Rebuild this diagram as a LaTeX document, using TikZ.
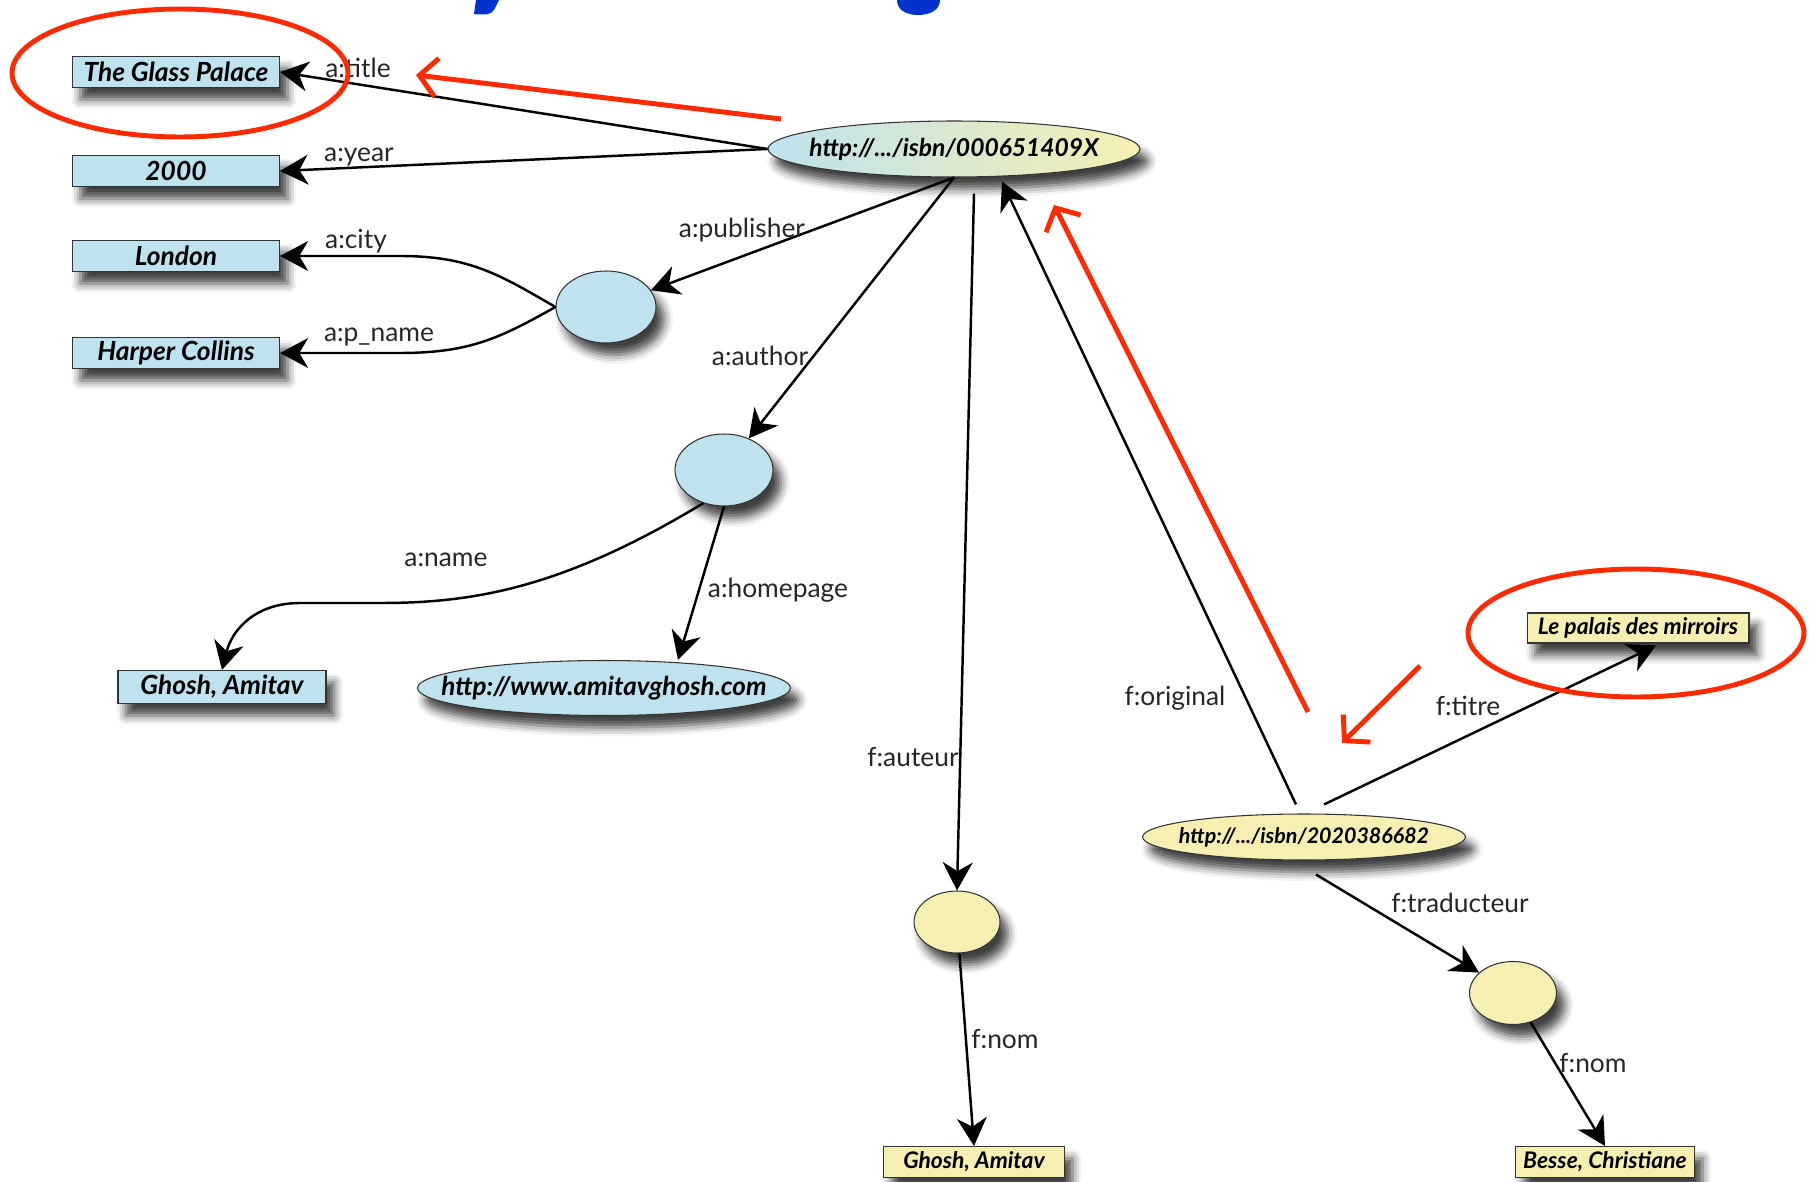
\documentclass[tikz,border=0pt]{standalone}
\usepackage{fontspec}
\setmainfont{Lato}
\usetikzlibrary{shapes.geometric,arrows.meta,calc,shadows.blur}
\definecolor{nblue}{HTML}{BEE2EE}
\definecolor{nyellow}{HTML}{F5EFB2}
\definecolor{hilite}{HTML}{FF2A00}
\definecolor{titleblue}{HTML}{0033CC}
\newcommand{\uri}[1]{\makebox[0pt]{#1}}

\begin{document}
\begin{tikzpicture}[x=0.02cm,y=-0.02cm,
    shad/.style={blur shadow={shadow xshift=0.16cm,shadow yshift=-0.24cm,shadow blur radius=0.18cm,shadow opacity=75}},
    lit/.style={shad,rectangle,draw=black!80,line width=0.6pt,inner sep=0pt,minimum height=0.62cm},
    blit/.style={lit,fill=nblue,minimum width=4.14cm,font=\fontsize{15}{17}\selectfont\bfseries\itshape},
    ylit/.style={lit,fill=nyellow,font=\fontsize{13}{15}\selectfont\bfseries\itshape},
    res/.style={shad,ellipse,draw=black!80,line width=0.6pt,inner sep=0pt},
    blank/.style={res,minimum width=1.96cm,minimum height=1.44cm},
    lbl/.style={font=\fontsize{15}{17}\selectfont,text=black!85,inner sep=1pt},
    arr/.style={-{Stealth[length=16pt,width=17pt,inset=5pt]},line width=1.4pt},
    hl/.style={draw=hilite,line width=2.8pt},
    hlarr/.style={hl,-{Straight Barb[length=10pt,width=22pt]}}]
  \useasboundingbox (0,0) rectangle (1810,1182);
  % cut title
  \fill[titleblue] (478,0) -- (499,0) -- (494,10) .. controls (491,15) and (484,15) .. (474,14) -- (476,0) -- cycle;
  \fill[titleblue] (897,0) -- (940,0) .. controls (940,10) and (930,15) .. (918,15) .. controls (905,15) and (897,9) .. (897,0);
  % english graph
  \node[blit] (title) at (176,72) {The Glass Palace};
  \node[blit] (year) at (176,171) {2000};
  \node[blit] (city) at (176,256) {London};
  \node[blit] (pname) at (176,353) {Harper Collins};
  \node[res,left color=nblue,right color=nyellow,minimum width=7.44cm,minimum height=1.12cm,
    font=\fontsize{14}{16}\selectfont\bfseries\itshape] (isbn) at (954,149) {\uri{http://.../isbn/000651409X}};
  \node[blank,fill=nblue,minimum width=2cm] (pub) at (606,307) {};
  \node[blank,fill=nblue] (auth) at (724,470) {};
  \node[blit,minimum width=4.16cm,minimum height=0.66cm] (gho) at (222,687) {Ghosh, Amitav};
  \node[res,fill=nblue,minimum width=7.46cm,minimum height=1.1cm,
    font=\fontsize{14.8}{16}\selectfont\bfseries\itshape] (home) at (604,688) {\uri{http://www.amitavghosh.com}};
  % french graph
  \node[blank,fill=nyellow,minimum width=1.72cm,minimum height=1.24cm] (aut) at (957,922) {};
  \node[ylit,minimum width=3.62cm] (gho2) at (974,1162) {Ghosh, Amitav};
  \node[res,fill=nyellow,minimum width=6.46cm,minimum height=0.92cm,
    font=\fontsize{12.2}{14}\selectfont\bfseries\itshape] (isbn2) at (1304,837) {\uri{http://.../isbn/2020386682}};
  \node[ylit,minimum width=4.44cm,minimum height=0.6cm] (titre) at (1638,628) {Le palais des mirroirs};
  \node[blank,fill=nyellow,minimum width=1.74cm,minimum height=1.26cm] (trad) at (1513,993) {};
  \node[ylit,minimum width=3.58cm] (besse) at (1605,1162) {Besse, Christiane};
  % edges
  \draw[arr] (isbn.west) -- (title.east);
  \draw[arr] (isbn.west) -- (year.east);
  \draw[arr] (isbn.south) -- (pub);
  \draw[arr] (isbn.south) -- (auth);
  \draw[arr] (pub.west) .. controls (500,275) and (470,256) .. (400,256) -- (city.east);
  \draw[arr] (pub.west) .. controls (500,338) and (470,353) .. (400,353) -- (pname.east);
  \draw[arr] (auth.-122) .. controls (560,590) and (470,603) .. (380,603) -- (300,603)
    .. controls (255,603) and (232,630) .. (gho.north);
  \draw[arr] (auth.south) -- ($(home.north)+(74,0)$);
  \draw[arr] ($(isbn.south)+(20,16)$) -- (aut.north);
  \draw[arr] (aut) -- (gho2.north);
  \draw[arr] ($(isbn2.north)+(-8,-9)$) -- ($(isbn.south)+(48,4)$);
  \draw[arr] ($(isbn2.north)+(20,-9)$) -- ($(titre.south)+(18,2)$);
  \draw[arr] ($(isbn2.south)+(12,14)$) -- (trad);
  \draw[arr] (trad) -- (besse.north);
  % labels
  \node[lbl] (ltitle) at (358,68) {a:title};
  \node[lbl] (lyear) at (359,157) {a:year};
  \node[lbl] (lpub) at (742,230) {a:publisher};
  \node[lbl] (lcity) at (356,241) {a:city};
  \node[lbl] (lpname) at (379,337) {a:p\_name};
  \node[lbl] (lauth) at (760,356) {a:author};
  \node[lbl] (lname) at (446,560) {a:name};
  \node[lbl] (lhome) at (778,590) {a:homepage};
  \node[lbl] (laut) at (913,757) {f:auteur};
  \node[lbl] (lnom) at (1005,1039) {f:nom};
  \node[lbl] (lorig) at (1175,698) {f:original};
  \node[lbl] (ltitre) at (1468,706) {f:titre};
  \node[lbl] (ltrad) at (1460,903) {f:traducteur};
  \node[lbl] (lnom2) at (1593,1063) {f:nom};
  % highlights
  \node[hl,ellipse,minimum width=6.72cm,minimum height=2.56cm] (ring1) at (180,73) {};
  \node[hl,ellipse,minimum width=6.72cm,minimum height=2.56cm] (ring2) at (1636,633) {};
  \coordinate (h1a) at (781,119);
  \coordinate (h1b) at (416,75);
  \coordinate (h2a) at (1308,712);
  \coordinate (h2b) at (1054,205);
  \coordinate (h3a) at (1420,666);
  \coordinate (h3b) at (1342,743);
  \draw[hlarr] (h1a) -- (h1b);
  \draw[hlarr] (h2a) -- (h2b);
  \draw[hlarr] (h3a) -- (h3b);
\end{tikzpicture}
\end{document}
